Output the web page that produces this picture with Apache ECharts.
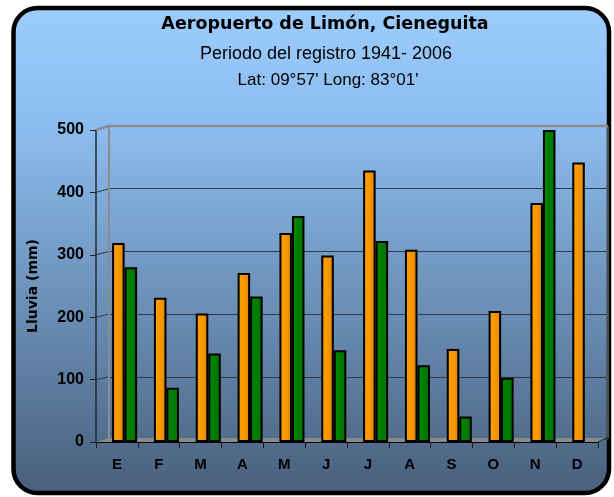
<!DOCTYPE html>
<html><head><meta charset="utf-8">
<script src="https://cdn.jsdelivr.net/npm/echarts@6/dist/echarts.min.js"></script>
<style>html,body{margin:0;padding:0;background:#fff}#c{width:614px;height:497px}</style>
</head><body><div id="c"></div>
<script>
// ---- data ----
const months = ['E','F','M','A','M','J','J','A','S','O','N','D'];
const serieNaranja = [319, 231, 206, 271, 335, 299, 435, 308, 149, 210, 383, 448];
const serieVerde   = [280, 87, 142, 233, 362, 147, 322, 123, 41, 103, 500, null];
const yTicks = [0, 100, 200, 300, 400, 500];
const titleText = 'Aeropuerto de Limón, Cieneguita';
const subText1 = 'Periodo del registro 1941- 2006';
const subText2 = "Lat: 09°57' Long: 83°01'";
const yName = 'Lluvia (mm)';

// ---- layout ----
const F = {l: 96, r: 598, t: 130, b: 442};   // front plane
const B = {l: 109, r: 608, t: 126, b: 439.5}; // back wall
const barShift = 7.7;

const chart = echarts.init(document.getElementById('c'), null, {renderer: 'canvas'});
const yMin = yTicks[0], yMax = yTicks[yTicks.length - 1], yStep = yTicks[1] - yTicks[0];

const bgGrad = new echarts.graphic.LinearGradient(0, 0, 0, 1, [
  {offset: 0, color: '#9CCDFD'},
  {offset: 0.25, color: '#8CBCEE'},
  {offset: 1, color: '#485F7B'}
]);
const orangeGrad = new echarts.graphic.LinearGradient(0, 0, 1, 0, [
  {offset: 0, color: '#FFA000'},
  {offset: 0.5, color: '#F99800'},
  {offset: 1, color: '#E08600'}
]);
const greenGrad = new echarts.graphic.LinearGradient(0, 0, 1, 0, [
  {offset: 0, color: '#008A00'},
  {offset: 1, color: '#007200'}
]);

const option = {
  backgroundColor: '#ffffff',
  animation: false,
  title: [
    {text: titleText, left: 325, top: 15, textAlign: 'center', padding: 0,
     textStyle: {fontFamily: 'DejaVu Sans', fontWeight: 'bold', fontSize: 17.5, color: '#000'}},
    {text: subText1, left: 326, top: 45, textAlign: 'center', padding: 0,
     textStyle: {fontFamily: 'Liberation Sans', fontWeight: 'normal', fontSize: 18, color: '#000'}},
    {text: subText2, left: 328, top: 72, textAlign: 'center', padding: 0,
     textStyle: {fontFamily: 'Liberation Sans', fontWeight: 'normal', fontSize: 17, color: '#000'}}
  ],
  grid: [
    {left: B.l, top: B.t, width: B.r - B.l, height: B.b - B.t, containLabel: false},
    {left: F.l, top: F.t, width: F.r - F.l, height: F.b - F.t, containLabel: false},
    {left: F.l + barShift, top: F.t, width: F.r - F.l, height: F.b - F.t, containLabel: false}
  ],
  xAxis: [
    {gridIndex: 0, type: 'category', data: months, show: false},
    {gridIndex: 1, type: 'category', data: months,
     axisLine: {show: true, lineStyle: {color: '#000', width: 1}},
     axisTick: {show: true, length: 6, lineStyle: {color: '#1a1a1a'}},
     axisLabel: {margin: 15, color: '#000', fontFamily: 'Liberation Sans', fontWeight: 'bold', fontSize: 15},
     splitLine: {show: false}},
    {gridIndex: 2, type: 'category', data: months, show: false}
  ],
  yAxis: [
    {gridIndex: 0, type: 'value', min: yMin, max: yMax, interval: yStep,
     axisLine: {show: false}, axisTick: {show: false}, axisLabel: {show: false},
     splitLine: {show: true, lineStyle: {color: '#2f3a48', width: 1}}},
    {gridIndex: 1, type: 'value', min: yMin, max: yMax, interval: yStep,
     name: yName, nameLocation: 'middle', nameRotate: 90, nameGap: 56,
     nameTextStyle: {fontFamily: 'DejaVu Sans', fontWeight: 'bold', fontSize: 14, color: '#000'},
     axisLine: {show: true, lineStyle: {color: '#1e2a38', width: 1.5}},
     axisTick: {show: true, length: 6, lineStyle: {color: '#222'}},
     axisLabel: {margin: 12, color: '#000', fontFamily: 'Liberation Sans', fontWeight: 'bold', fontSize: 16},
     splitLine: {show: false}},
    {gridIndex: 2, type: 'value', min: yMin, max: yMax, show: false, splitLine: {show: false}}
  ],
  series: [
    {name: 'Serie 1', type: 'bar', xAxisIndex: 2, yAxisIndex: 2, data: serieNaranja,
     barWidth: 12.5, barGap: '0%', z: 5,
     itemStyle: {color: orangeGrad, borderColor: '#000', borderWidth: 2}},
    {name: 'Serie 2', type: 'bar', xAxisIndex: 2, yAxisIndex: 2, data: serieVerde,
     barWidth: 12.5, barGap: '0%', z: 5,
     itemStyle: {color: greenGrad, borderColor: '#000', borderWidth: 2}}
  ],
  graphic: []
};
chart.setOption(option);

// decorative 3D walls computed from the axes
function deco() {
  const els = [];
  els.push({type: 'rect', z: -100, silent: true,
    shape: {x: 13.5, y: 8, width: 595.5, height: 485, r: 24},
    style: {fill: bgGrad, stroke: '#000', lineWidth: 4.5}});
  const y0F = chart.convertToPixel({yAxisIndex: 1}, yMin);
  const y0B = chart.convertToPixel({yAxisIndex: 0}, yMin);
  // floor
  els.push({type: 'polygon', z: 1, silent: true,
    shape: {points: [[F.l, y0F], [F.r, y0F], [B.r, y0B - 1.5], [B.l, y0B - 1.5]]},
    style: {fill: '#8a8a8a'}});
  // side-wall connectors
  yTicks.forEach(function (v, i) {
    if (i === 0) return;
    const yf = chart.convertToPixel({yAxisIndex: 1}, v);
    const yb = chart.convertToPixel({yAxisIndex: 0}, v);
    const top = i === yTicks.length - 1;
    els.push({type: 'line', z: 1, silent: true,
      shape: {x1: F.l, y1: yf, x2: B.l, y2: yb},
      style: {stroke: top ? '#8c8c8c' : '#2f3a48', lineWidth: top ? 2.5 : 1}});
  });
  const ytB = chart.convertToPixel({yAxisIndex: 0}, yMax);
  // back wall top edge & side edges
  els.push({type: 'line', z: 1, silent: true,
    shape: {x1: B.l, y1: ytB, x2: B.r, y2: ytB}, style: {stroke: '#8c8c8c', lineWidth: 2.5}});
  els.push({type: 'line', z: 1, silent: true,
    shape: {x1: B.l, y1: ytB, x2: B.l, y2: y0B}, style: {stroke: '#8c8c8c', lineWidth: 2}});
  els.push({type: 'line', z: 1, silent: true,
    shape: {x1: B.r, y1: ytB, x2: B.r, y2: y0B - 1.5}, style: {stroke: '#a0a0a0', lineWidth: 1}});
  // front right floor edge
  els.push({type: 'line', z: 1, silent: true,
    shape: {x1: F.r, y1: y0F, x2: B.r, y2: y0B - 2.5}, style: {stroke: '#1e2a38', lineWidth: 1}});
  chart.setOption({graphic: els});
}
deco();
</script>
</body></html>
